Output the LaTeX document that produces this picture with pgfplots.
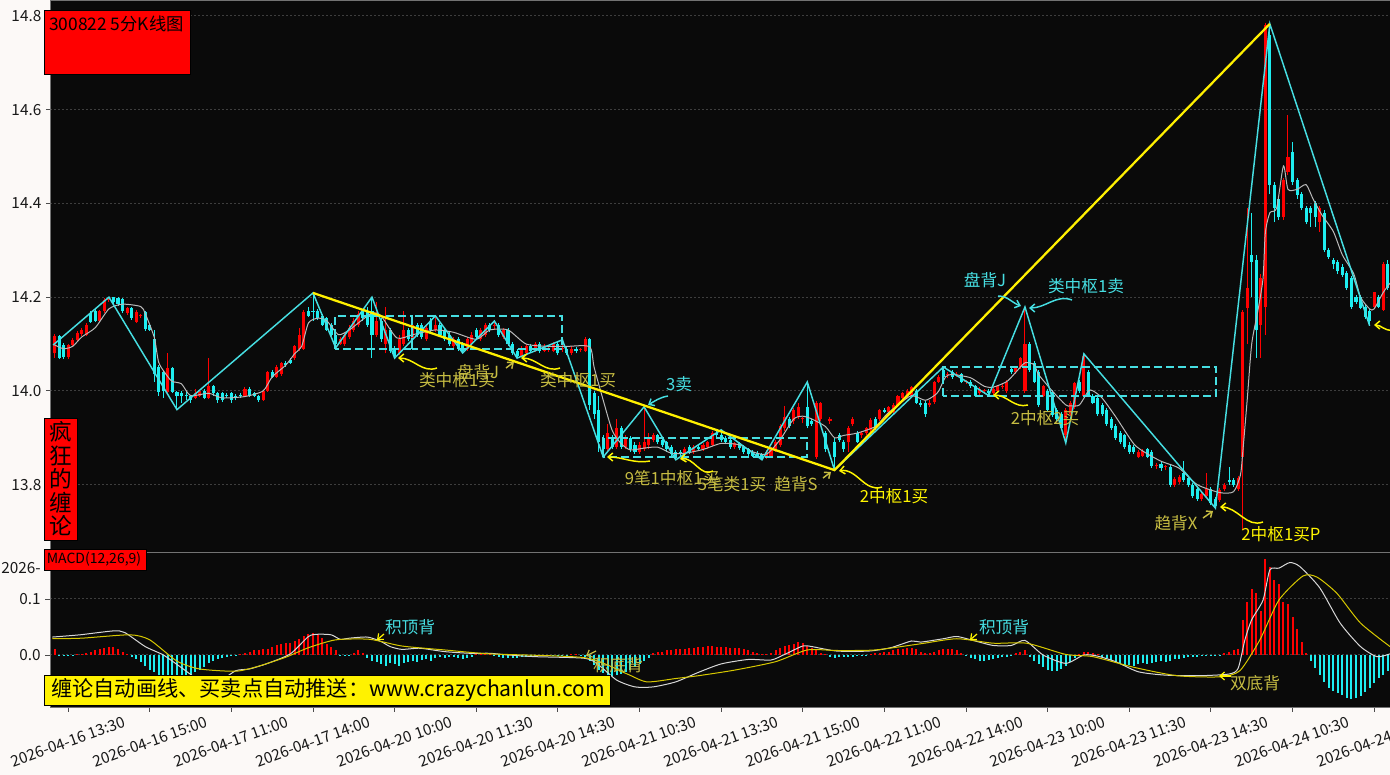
\documentclass[border=0pt]{standalone}
\usepackage{fontspec}
\setmainfont{Noto Sans CJK SC}
\usepackage{pgfplots}
\pgfplotsset{compat=1.18}
\usepackage{pgfplotstable}
\usetikzlibrary{arrows.meta}

\definecolor{pagebg}{RGB}{252,249,247}
\definecolor{plotbg}{RGB}{10,10,10}
\definecolor{kup}{RGB}{255,0,0}
\definecolor{kdn}{RGB}{30,238,240}
\definecolor{bi}{RGB}{70,222,226}
\definecolor{seg}{RGB}{255,240,0}
\definecolor{maline}{RGB}{185,185,185}
\definecolor{difc}{RGB}{215,215,215}
\definecolor{deac}{RGB}{215,200,0}
\definecolor{olive}{RGB}{198,188,66}
\definecolor{ylw}{RGB}{255,245,0}
\definecolor{gridc}{RGB}{62,62,62}

% 5-minute bars: index, open, high, low, close, MACD histogram
\pgfplotstableread{
i o h l c d
1 14.080 14.122 14.070 14.118 0.010
2 14.118 14.120 14.068 14.070 -0.002
3 14.098 14.102 14.068 14.072 -0.002
4 14.072 14.100 14.068 14.098 -0.002
5 14.098 14.112 14.095 14.108 -0.001
6 14.108 14.128 14.104 14.124 0.001
7 14.122 14.135 14.118 14.130 0.002
8 14.120 14.145 14.118 14.141 0.004
9 14.166 14.170 14.145 14.148 0.006
10 14.170 14.175 14.148 14.150 0.008
11 14.150 14.172 14.148 14.170 0.010
12 14.170 14.198 14.166 14.194 0.012
13 14.194 14.200 14.190 14.199 0.015
14 14.200 14.201 14.186 14.190 0.015
15 14.199 14.200 14.182 14.186 0.010
16 14.196 14.198 14.166 14.170 0.005
17 14.166 14.180 14.162 14.176 0.002
18 14.176 14.178 14.152 14.155 -0.003
19 14.148 14.172 14.145 14.168 -0.008
20 14.160 14.165 14.155 14.161 -0.013
21 14.168 14.170 14.128 14.131 -0.020
22 14.140 14.142 14.128 14.130 -0.026
23 14.110 14.130 14.020 14.035 -0.030
24 14.050 14.055 13.990 13.998 -0.040
25 14.040 14.045 13.985 14.000 -0.045
26 13.998 14.080 13.995 14.049 -0.048
27 14.049 14.052 13.995 13.998 -0.050
28 13.998 14.000 13.960 13.990 -0.050
29 13.996 14.000 13.975 13.990 -0.045
30 13.991 14.000 13.980 13.989 -0.040
31 13.990 13.992 13.975 13.980 -0.035
32 13.985 14.005 13.982 13.995 -0.030
33 13.990 14.002 13.988 14.000 -0.026
34 14.000 14.003 13.982 13.985 -0.022
35 13.985 14.070 13.982 14.010 -0.015
36 14.010 14.012 13.990 13.995 -0.010
37 13.995 13.998 13.975 13.980 -0.008
38 13.995 13.998 13.976 13.980 -0.005
39 13.991 13.995 13.985 13.989 -0.003
40 13.995 13.998 13.975 13.980 -0.002
41 13.990 13.994 13.980 13.984 -0.001
42 13.991 13.995 13.985 13.989 0.002
43 13.990 14.008 13.986 14.005 0.004
44 14.005 14.008 13.988 13.990 0.006
45 13.995 13.998 13.986 13.990 0.009
46 13.990 13.992 13.976 13.980 0.009
47 13.980 14.002 13.978 14.000 0.010
48 14.000 14.042 13.998 14.040 0.010
49 14.040 14.045 14.028 14.030 0.015
50 14.030 14.055 14.028 14.050 0.018
51 14.035 14.062 14.032 14.060 0.020
52 14.060 14.064 14.052 14.055 0.022
53 14.066 14.070 14.058 14.060 0.022
54 14.070 14.098 14.066 14.095 0.025
55 14.090 14.135 14.086 14.120 0.028
56 14.090 14.172 14.088 14.169 0.033
57 14.170 14.178 14.158 14.160 0.038
58 14.171 14.209 14.150 14.169 0.040
59 14.170 14.175 14.152 14.155 0.038
60 14.160 14.165 14.138 14.140 0.030
61 14.155 14.158 14.128 14.130 0.020
62 14.140 14.145 14.118 14.120 0.015
63 14.120 14.125 14.092 14.100 0.008
64 14.100 14.115 14.098 14.110 -0.002
65 14.100 14.124 14.096 14.120 -0.002
66 14.115 14.140 14.110 14.135 -0.001
67 14.130 14.155 14.126 14.150 0.003
68 14.140 14.170 14.136 14.165 0.008
69 14.170 14.175 14.150 14.155 0.003
70 14.170 14.180 14.136 14.140 -0.005
71 14.170 14.200 14.070 14.120 -0.010
72 14.120 14.190 14.115 14.150 -0.012
73 14.150 14.155 14.105 14.110 -0.016
74 14.100 14.180 14.080 14.130 -0.019
75 14.130 14.135 14.080 14.085 -0.015
76 14.090 14.095 14.070 14.075 -0.017
77 14.080 14.120 14.076 14.110 -0.019
78 14.100 14.170 14.096 14.130 -0.014
79 14.130 14.135 14.106 14.110 -0.012
80 14.110 14.145 14.106 14.140 -0.010
81 14.140 14.145 14.115 14.120 -0.013
82 14.140 14.145 14.110 14.115 -0.009
83 14.110 14.140 14.106 14.135 -0.007
84 14.150 14.155 14.126 14.130 -0.010
85 14.130 14.160 14.126 14.140 -0.005
86 14.140 14.145 14.116 14.120 -0.004
87 14.130 14.135 14.106 14.110 -0.006
88 14.120 14.125 14.096 14.100 -0.004
89 14.095 14.115 14.090 14.110 -0.003
90 14.110 14.115 14.086 14.090 -0.006
91 14.100 14.105 14.081 14.085 -0.007
92 14.090 14.115 14.086 14.110 -0.005
93 14.100 14.125 14.096 14.120 -0.004
94 14.130 14.135 14.110 14.115 0.002
95 14.110 14.135 14.106 14.130 0.003
96 14.120 14.145 14.116 14.140 0.004
97 14.140 14.145 14.126 14.130 0.003
98 14.139 14.150 14.130 14.141 -0.002
99 14.140 14.145 14.116 14.120 -0.004
100 14.115 14.135 14.110 14.130 -0.005
101 14.130 14.135 14.096 14.100 -0.006
102 14.100 14.105 14.076 14.080 -0.005
103 14.085 14.090 14.070 14.075 -0.005
104 14.075 14.095 14.072 14.090 -0.004
105 14.080 14.100 14.076 14.095 -0.004
106 14.095 14.100 14.080 14.085 -0.003
107 14.085 14.105 14.082 14.100 -0.003
108 14.100 14.104 14.080 14.085 -0.002
109 14.085 14.100 14.082 14.095 -0.002
110 14.089 14.095 14.084 14.091 -0.002
111 14.085 14.104 14.082 14.100 -0.001
112 14.100 14.104 14.076 14.080 -0.001
113 14.089 14.109 14.084 14.091 -0.002
114 14.090 14.095 14.076 14.080 -0.002
115 14.080 14.095 14.076 14.090 0.001
116 14.090 14.094 14.080 14.085 0.002
117 14.087 14.092 14.082 14.089 -0.001
118 14.085 14.115 14.082 14.110 -0.004
119 14.110 14.112 13.960 13.970 -0.010
120 13.995 14.000 13.940 13.950 -0.018
121 13.960 13.990 13.870 13.890 -0.026
122 13.900 13.905 13.859 13.875 -0.033
123 13.875 13.930 13.870 13.910 -0.036
124 13.900 13.905 13.876 13.880 -0.038
125 13.880 13.940 13.876 13.920 -0.035
126 13.920 13.925 13.876 13.880 -0.034
127 13.880 13.905 13.876 13.900 -0.030
128 13.900 13.904 13.870 13.875 -0.026
129 13.885 13.890 13.866 13.870 -0.022
130 13.870 13.890 13.866 13.885 -0.016
131 13.875 13.966 13.872 13.890 -0.010
132 13.885 13.910 13.875 13.900 -0.006
133 13.895 13.910 13.890 13.905 0.003
134 13.905 13.908 13.886 13.890 0.005
135 13.895 13.898 13.880 13.885 0.006
136 13.890 13.893 13.870 13.875 0.008
137 13.880 13.884 13.862 13.865 0.008
138 13.870 13.874 13.853 13.860 0.010
139 13.870 13.874 13.860 13.865 0.010
140 13.865 13.880 13.862 13.875 0.011
141 13.880 13.884 13.866 13.870 0.013
142 13.870 13.884 13.866 13.880 0.013
143 13.880 13.884 13.872 13.875 0.014
144 13.875 13.888 13.872 13.885 0.015
145 13.880 13.894 13.876 13.890 0.016
146 13.885 13.915 13.882 13.910 0.016
147 13.910 13.917 13.902 13.905 0.015
148 13.905 13.910 13.890 13.895 0.014
149 13.900 13.904 13.886 13.890 0.014
150 13.895 13.898 13.876 13.880 0.013
151 13.880 13.892 13.876 13.888 0.013
152 13.888 13.892 13.874 13.878 0.012
153 13.880 13.884 13.866 13.870 0.010
154 13.875 13.878 13.862 13.865 0.008
155 13.870 13.874 13.858 13.862 0.005
156 13.868 13.872 13.856 13.860 0.003
157 13.865 13.868 13.853 13.856 0.002
158 13.858 13.874 13.855 13.870 0.002
159 13.860 13.880 13.856 13.875 0.004
160 13.875 13.895 13.870 13.890 0.008
161 13.885 13.930 13.880 13.925 0.012
162 13.920 13.967 13.915 13.945 0.016
163 13.940 13.944 13.920 13.925 0.018
164 13.935 13.964 13.930 13.960 0.020
165 13.945 13.975 13.940 13.966 0.024
166 13.939 13.945 13.932 13.941 0.022
167 13.965 14.019 13.920 13.925 0.016
168 13.935 13.940 13.926 13.930 0.012
169 13.860 13.978 13.855 13.975 0.008
170 13.940 13.977 13.935 13.975 0.004
171 13.910 13.915 13.870 13.875 0.002
172 13.935 13.945 13.930 13.940 -0.004
173 13.890 13.900 13.831 13.860 -0.005
174 13.905 13.910 13.890 13.895 -0.004
175 13.890 13.895 13.870 13.875 -0.003
176 13.890 13.925 13.870 13.920 -0.003
177 13.930 13.945 13.925 13.940 -0.004
178 13.910 13.915 13.889 13.890 -0.002
179 13.905 13.915 13.900 13.910 -0.002
180 13.910 13.924 13.906 13.920 -0.001
181 13.917 13.942 13.912 13.938 0.002
182 13.940 13.944 13.916 13.920 0.003
183 13.940 13.962 13.936 13.960 0.004
184 13.960 13.964 13.952 13.955 0.005
185 13.955 13.968 13.950 13.965 0.006
186 13.955 13.974 13.950 13.970 0.008
187 13.970 13.992 13.966 13.990 0.010
188 13.985 13.998 13.980 13.995 0.011
189 13.990 14.003 13.986 14.000 0.012
190 13.990 14.010 13.986 14.008 0.013
191 14.000 14.004 13.972 13.975 0.010
192 13.975 13.980 13.965 13.970 0.006
193 13.975 13.978 13.945 13.950 0.003
194 13.970 13.980 13.966 13.975 0.003
195 13.977 14.022 13.972 14.020 0.006
196 14.020 14.034 14.016 14.030 0.009
197 14.045 14.051 14.026 14.030 0.010
198 14.034 14.040 14.028 14.036 0.011
199 14.040 14.044 14.026 14.030 0.010
200 14.034 14.040 14.030 14.036 0.008
201 14.035 14.038 14.016 14.020 0.004
202 14.019 14.024 14.014 14.021 -0.002
203 14.020 14.024 14.006 14.010 -0.005
204 14.010 14.013 13.986 13.990 -0.008
205 13.995 14.008 13.992 14.005 -0.010
206 13.999 14.004 13.994 14.001 -0.010
207 14.000 14.004 13.990 13.995 -0.009
208 13.995 14.008 13.992 14.005 -0.007
209 14.000 14.013 13.996 14.010 -0.006
210 14.009 14.014 14.004 14.011 -0.004
211 14.000 14.024 13.996 14.020 -0.003
212 14.047 14.050 14.036 14.040 -0.001
213 14.040 14.053 14.036 14.050 0.003
214 14.050 14.073 14.046 14.070 0.006
215 14.000 14.179 13.996 14.100 0.009
216 14.100 14.104 14.040 14.045 -0.003
217 14.060 14.064 14.016 14.020 -0.010
218 14.040 14.044 13.966 13.970 -0.016
219 13.990 14.013 13.986 14.010 -0.022
220 14.000 14.004 13.956 13.960 -0.026
221 13.998 14.002 13.945 13.949 -0.029
222 13.960 13.964 13.936 13.940 -0.028
223 13.950 13.954 13.916 13.920 -0.025
224 13.906 13.963 13.889 13.960 -0.020
225 13.950 13.978 13.946 13.975 -0.012
226 13.966 14.020 13.962 14.017 -0.005
227 14.020 14.024 13.996 14.000 0.002
228 13.990 14.079 13.986 14.075 0.005
229 14.040 14.044 13.986 13.990 0.005
230 13.990 13.994 13.971 13.975 0.004
231 13.985 13.990 13.946 13.950 0.002
232 13.970 13.974 13.946 13.950 -0.003
233 13.960 13.964 13.926 13.930 -0.006
234 13.940 13.944 13.916 13.920 -0.009
235 13.925 13.930 13.896 13.900 -0.012
236 13.910 13.914 13.886 13.890 -0.016
237 13.905 13.908 13.876 13.880 -0.020
238 13.885 13.890 13.866 13.870 -0.018
239 13.880 13.884 13.866 13.870 -0.020
240 13.860 13.874 13.856 13.870 -0.017
241 13.862 13.876 13.858 13.872 -0.015
242 13.875 13.878 13.856 13.860 -0.016
243 13.870 13.874 13.836 13.840 -0.014
244 13.839 13.846 13.834 13.841 -0.013
245 13.845 13.848 13.830 13.835 -0.011
246 13.837 13.842 13.832 13.839 -0.012
247 13.838 13.842 13.796 13.800 -0.010
248 13.800 13.816 13.796 13.812 -0.008
249 13.806 13.820 13.802 13.817 -0.007
250 13.825 13.850 13.806 13.810 -0.005
251 13.815 13.818 13.796 13.800 -0.004
252 13.800 13.804 13.771 13.775 -0.003
253 13.790 13.794 13.766 13.770 -0.003
254 13.770 13.784 13.766 13.780 -0.002
255 13.775 13.825 13.771 13.790 -0.002
256 13.790 13.794 13.756 13.760 -0.001
257 13.770 13.774 13.750 13.755 -0.001
258 13.768 13.792 13.764 13.789 -0.001
259 13.790 13.804 13.786 13.800 0.003
260 13.810 13.838 13.800 13.805 0.005
261 13.810 13.814 13.796 13.800 0.008
262 13.790 13.818 13.786 13.815 0.011
263 13.860 14.172 13.703 14.169 0.062
264 14.177 14.390 14.100 14.220 0.095
265 14.290 14.380 14.200 14.275 0.118
266 14.280 14.290 14.070 14.130 0.110
267 14.140 14.250 14.070 14.240 0.079
268 14.180 14.785 14.120 14.780 0.171
269 14.760 14.783 14.420 14.440 0.158
270 14.440 14.445 14.360 14.390 0.134
271 14.410 14.415 14.365 14.370 0.127
272 14.370 14.455 14.365 14.450 0.095
273 14.467 14.589 14.460 14.500 0.091
274 14.510 14.530 14.440 14.446 0.068
275 14.450 14.455 14.410 14.418 0.046
276 14.420 14.425 14.385 14.390 0.023
277 14.390 14.395 14.355 14.360 0.004
278 14.390 14.395 14.350 14.380 -0.011
279 14.400 14.405 14.350 14.370 -0.023
280 14.360 14.395 14.340 14.390 -0.035
281 14.380 14.385 14.296 14.300 -0.048
282 14.300 14.304 14.282 14.286 -0.059
283 14.280 14.284 14.260 14.270 -0.064
284 14.275 14.280 14.250 14.255 -0.068
285 14.265 14.270 14.244 14.247 -0.072
286 14.252 14.256 14.216 14.220 -0.076
287 14.240 14.245 14.175 14.179 -0.079
288 14.200 14.204 14.186 14.190 -0.077
289 14.200 14.204 14.174 14.177 -0.074
290 14.179 14.183 14.154 14.158 -0.066
291 14.170 14.174 14.139 14.150 -0.059
292 14.180 14.212 14.176 14.210 -0.050
293 14.200 14.205 14.176 14.180 -0.041
294 14.173 14.275 14.170 14.270 -0.035
295 14.270 14.280 14.215 14.220 -0.029
}\kdata

\begin{document}
\begin{tikzpicture}
\path[use as bounding box, fill=pagebg] (0pt,0pt) rectangle (1042.5pt,581.25pt);
\clip (0pt,0pt) rectangle (1042.5pt,581.25pt);

\pgfplotsset{kbase/.style={
  scale only axis, width=1005pt, xmin=0, xmax=295.5,
  axis background/.style={fill=plotbg},
  axis line style={draw=black!55, line width=0.5pt},
  tick label style={font=\fontsize{11.5}{13}\selectfont, text=black!90},
  /pgf/number format/assume math mode=true,
  ytick pos=left, tick align=outside, major tick length=3pt,
  tick style={black!70, line width=0.6pt},
  ymajorgrids, grid style={gridc, line width=0.75pt, dash pattern=on 1.5pt off 1.5pt},
}}

% ---------- price panel ----------
\begin{axis}[kbase, at={(37.5pt,167.25pt)}, anchor=south west, height=414pt,
  ymin=13.6565, ymax=14.8341, xtick=\empty,
  ytick={13.8,14.0,14.2,14.4,14.6,14.8},
  yticklabels={13.8,14.0,14.2,14.4,14.6,14.8}]

% wicks
\addplot[draw=none, mark=none, error bars/.cd, y dir=plus, y explicit, error mark=none,
  error bar style={line width=0.75pt, draw=kup}]
  table[x=i, y expr={\thisrow{c}<\thisrow{o} ? 0 : \thisrow{l}},
        y error plus expr={\thisrow{h}-\thisrow{l}}] {\kdata};
\addplot[draw=none, mark=none, error bars/.cd, y dir=plus, y explicit, error mark=none,
  error bar style={line width=0.75pt, draw=kdn}]
  table[x=i, y expr={\thisrow{c}<\thisrow{o} ? \thisrow{l} : 0},
        y error plus expr={\thisrow{h}-\thisrow{l}}] {\kdata};
% bodies
\addplot[draw=none, mark=none, error bars/.cd, y dir=plus, y explicit, error mark=none,
  error bar style={line width=2.3pt, draw=kup}]
  table[x=i, y expr={\thisrow{c}<\thisrow{o} ? 0 : \thisrow{o}},
        y error plus expr={max(\thisrow{c}-\thisrow{o},0.0025)}] {\kdata};
\addplot[draw=none, mark=none, error bars/.cd, y dir=plus, y explicit, error mark=none,
  error bar style={line width=2.3pt, draw=kdn}]
  table[x=i, y expr={\thisrow{c}<\thisrow{o} ? \thisrow{c} : 0},
        y error plus expr={max(\thisrow{o}-\thisrow{c},0.0025)}] {\kdata};

% moving average
\addplot[maline, line width=0.75pt, smooth, tension=0.4] coordinates {
(1,14.098) (3,14.090) (5,14.095) (7,14.115) (10,14.135) (13,14.175) (16,14.185) (20,14.180)
(21,14.165) (23,14.114) (24,14.060) (26,14.030) (27,14.020) (29,14.015) (31,13.990) (35,13.995)
(38,13.985) (43,13.988) (47,14.000) (49,14.030) (52,14.055) (54,14.080) (55.5,14.095) (57,14.145)
(59,14.155) (61,14.150) (63.6,14.120) (66,14.130) (68,14.145) (71,14.166) (73,14.160) (76.5,14.113)
(80,14.120) (85,14.130) (89,14.125) (94,14.110) (97,14.130) (101,14.130) (105,14.100) (110,14.095)
(114,14.095) (119,14.094) (120,14.050) (122,13.980) (124,13.915) (126,13.887) (128,13.874) (131,13.878)
(134,13.880) (137,13.867) (140,13.867) (144,13.875) (148,13.888) (152,13.885) (155,13.870) (158,13.865)
(161,13.896) (164,13.940) (166,13.946) (168,13.940) (171,13.924) (173,13.900) (175,13.905) (178,13.910)
(182,13.924) (184.5,13.950) (187,13.970) (190,13.990) (193,13.980) (195,13.990) (196,14.000) (197.5,14.030)
(199,14.035) (203,14.028) (206,14.010) (208,14.008) (211,14.020) (213,14.040) (215,14.060) (217,14.056)
(218,14.035) (221,14.000) (224,13.970) (225,13.968) (227,13.970) (229,14.000) (230,14.000) (232,13.985)
(235,13.945) (239,13.887) (241.6,13.868) (245,13.850) (249,13.835) (253,13.800) (258,13.783) (261,13.785)
(262.5,13.820) (263,13.866) (264,13.980) (265,14.100) (266.4,14.173) (267.5,14.240) (268,14.337) (269,14.380)
(270.5,14.390) (272,14.480) (273,14.430) (275,14.430) (277,14.440) (278.5,14.410) (280.5,14.375) (283,14.340)
(285,14.290) (287.5,14.250) (289,14.200) (291,14.175) (292,14.175) (294,14.210) (295.5,14.230)
};

% pivot boxes
\addplot[bi, line width=1.5pt, dash pattern=on 6pt off 3pt] coordinates {(62.8,14.09) (62.8,14.16) (79.8,14.16) (79.8,14.09) (62.8,14.09)};
\addplot[bi, line width=1.5pt, dash pattern=on 6pt off 3pt] coordinates {(79.8,14.09) (79.8,14.16) (112.9,14.16) (112.9,14.09) (79.8,14.09)};
\addplot[bi, line width=1.5pt, dash pattern=on 6pt off 3pt] coordinates {(121.9,13.859) (121.9,13.90) (166.9,13.90) (166.9,13.859) (121.9,13.859)};
\addplot[bi, line width=1.5pt, dash pattern=on 6pt off 3pt] coordinates {(196.9,13.989) (196.9,14.051) (257.1,14.051) (257.1,13.989) (196.9,13.989)};

% strokes
\addplot[bi, line width=1.1pt] coordinates {
(0.7,14.098) (13,14.200) (28,13.960) (58,14.209) (63,14.092) (71,14.200) (76,14.070) (85,14.160)
(91,14.081) (98,14.149) (103,14.070) (113,14.109) (122,13.859) (131,13.966) (138,13.853) (148,13.917)
(157,13.853) (167,14.019) (173,13.831) (197,14.051) (207,13.990) (215,14.179) (224,13.889) (228,14.079)
(257,13.750) (269,14.783) (291,14.139)
};
% segments
\addplot[seg, line width=1.7pt] coordinates {(58,14.209) (173,13.831) (269,14.783)};
\end{axis}

% ---------- MACD panel ----------
\begin{axis}[kbase, at={(37.5pt,51pt)}, anchor=south west, height=116.25pt,
  ymin=-0.0929, ymax=0.1839,
  ytick={0,0.1}, yticklabels={0.0,0.1},
  extra y ticks={0.155}, extra y tick labels={2026-}, extra y tick style={grid=none},
  xtick={4,22,...,292}, xtick pos=bottom, major tick length=3.5pt,
  xticklabels={2026-04-16 13:30,2026-04-16 15:00,2026-04-17 11:00,2026-04-17 14:00,
    2026-04-20 10:00,2026-04-20 11:30,2026-04-20 14:30,2026-04-21 10:30,2026-04-21 13:30,
    2026-04-21 15:00,2026-04-22 11:00,2026-04-22 14:00,2026-04-23 10:00,2026-04-23 11:30,
    2026-04-23 14:30,2026-04-24 10:30,2026-04-24 13:30},
  xticklabel style={yshift=-22.5pt, rotate=20, anchor=center, font=\fontsize{11.5}{13}\selectfont}]

\addplot[ycomb, kup, line width=1.5pt, mark=none]
  table[x=i, y expr={\thisrow{d}>0 ? \thisrow{d} : 0}] {\kdata};
\addplot[ycomb, kdn, line width=1.5pt, mark=none]
  table[x=i, y expr={\thisrow{d}<0 ? \thisrow{d} : 0}] {\kdata};

% DIF
\addplot[difc, line width=0.75pt, smooth, tension=0.4] coordinates {
(0.5,0.032) (6.6,0.036) (14,0.043) (16.5,0.040) (21,0.015) (25,0.000) (28.7,-0.021) (33,-0.045)
(37,-0.048) (41,-0.028) (44,-0.025) (48,-0.015) (53,0.002) (57,0.033) (59,0.037) (62,0.036)
(64,0.028) (66,0.030) (70,0.032) (73,0.024) (75,0.015) (77.6,0.010) (81.6,0.012) (87,0.006)
(92.6,0.003) (97,0.003) (101,0.000) (107,-0.003) (118,-0.006) (121,-0.018) (125,-0.045) (129,-0.057)
(133,-0.057) (138,-0.048) (143,-0.031) (148,-0.016) (154,-0.008) (159,-0.009) (162,0.001) (166,0.016)
(168,0.015) (173.5,0.007) (180.6,0.007) (185.4,0.013) (190,0.025) (192,0.023) (197,0.029) (200,0.033)
(204,0.025) (208,0.017) (212,0.017) (215,0.026) (219,0.000) (224,-0.015) (228,0.000) (231,-0.002)
(235,-0.012) (240,-0.030) (246,-0.036) (253.6,-0.037) (260,-0.034) (262,-0.024) (263.5,0.027) (265,0.063)
(267.5,0.098) (269,0.152) (271,0.155) (273.4,0.165) (275.6,0.158) (280,0.120) (284.5,0.057) (289,0.015)
(292.6,-0.003) (295.5,0.002)
};
% DEA
\addplot[deac, line width=0.75pt, smooth, tension=0.4] coordinates {
(0.5,0.029) (7,0.030) (17.6,0.036) (22,0.027) (28,-0.011) (33,-0.025) (41,-0.029) (46,-0.020)
(52,-0.004) (57,0.013) (63,0.027) (70.5,0.028) (77.6,0.016) (87,0.009) (97,0.002) (118,-0.005)
(127,-0.033) (131.6,-0.048) (138,-0.042) (143,-0.037) (151,-0.027) (160,-0.012) (167,0.009) (173.5,0.008)
(182,0.009) (192,0.020) (200,0.029) (208,0.021) (215.4,0.021) (224,0.001) (230,-0.003) (239,-0.022)
(248.5,-0.037) (258,-0.039) (262.4,-0.028) (266.8,0.027) (271,0.098) (276.3,0.141) (279.4,0.139) (283.8,0.110)
(289,0.057) (295.5,0.015)
};
\end{axis}

% ---------- labels and arrows (image pixel coordinates, y down) ----------
\begin{scope}[shift={(0pt,581.25pt)}, x=0.75pt, y=-0.75pt, font=\fontsize{12.5}{14}\selectfont,
  arr/.style={line width=1.1pt, -{Straight Barb[length=3.5pt,width=6pt]}}]
\draw[black, fill=red] (44,10) rectangle (190,74);
\node[anchor=west, inner sep=0, font=\fontsize{13}{15}\selectfont] at (49,24) {300822 5分K线图};
\draw[black, fill=red] (44,418) rectangle (77,540);
\node[align=center, inner sep=0, font=\fontsize{17}{17.6}\selectfont] at (60.5,479) {疯\\狂\\的\\缠\\论};
\draw[black, fill=red] (44,549) rectangle (146,570);
\node[anchor=west, inner sep=0, font=\fontsize{10.5}{12}\selectfont] at (46.5,559.5) {MACD(12,26,9)};
\draw[black, fill=yellow] (44,675) rectangle (610,705);
\node[anchor=west, inner sep=0, font=\fontsize{15.9}{18}\selectfont] at (51,690) {缠论自动画线、买卖点自动推送：www.crazychanlun.com};

% price annotations
\node[text=olive] at (457,380) {类中枢1买};
\node[text=olive] at (478,372) {盘背J};
\node[text=olive] at (578,380) {类中枢1买};
\node[text=bi] at (679,384) {3卖};
\node[text=olive] at (672,478) {9笔1中枢1买};
\node[text=olive] at (732,484) {5笔类1买};
\node[text=olive] at (796,484) {趋背S};
\node[text=ylw] at (894,496) {2中枢1买};
\node[text=bi] at (985,280) {盘背J};
\node[text=bi] at (1086,286) {类中枢1卖};
\node[text=olive] at (1045,418) {2中枢2买};
\node[text=olive] at (1176,523) {趋背X};
\node[text=ylw] at (1281,534) {2中枢1买P};

\draw[arr, ylw] (437,368) to[out=200,in=0] (398,358);
\draw[arr, olive] (506,368) -- (514,362);
\draw[arr, ylw] (560,368) to[out=200,in=0] (521,358);
\draw[arr, bi] (668,396) to[out=190,in=30] (648,405);
\draw[arr, ylw] (650,461) to[out=190,in=0] (607,457);
\draw[arr, ylw] (713,471) to[out=210,in=10] (680,459);
\draw[arr, olive] (823,478) -- (831,472);
\draw[arr, ylw] (882,487) to[out=200,in=10] (839,471);
\draw[arr, bi] (998,296) to[out=0,in=160] (1021,306);
\draw[arr, bi] (1072,300) to[out=160,in=0] (1029,308);
\draw[arr, ylw] (1028,405) to[out=195,in=0] (993,395);
\draw[arr, olive] (1203,518) -- (1213,511);
\draw[arr, ylw] (1263,522) to[out=200,in=0] (1220,507);
\draw[arr, ylw] (1392,330) to[out=190,in=0] (1374,325);

% MACD annotations
\node[text=bi] at (410,627) {积顶背};
\node[text=olive] at (618,665) {积底背};
\node[text=bi] at (1004,627) {积顶背};
\node[text=olive] at (1255,683) {双底背};
\draw[arr, ylw, line width=0.9pt] (384,634) -- (377,640);
\draw[arr, olive, line width=0.9pt] (596,651) -- (586,656);
\draw[arr, ylw, line width=0.9pt] (977,634) -- (970,640);
\draw[arr, ylw, line width=0.9pt] (1231,676) -- (1219,676);
\end{scope}
\end{tikzpicture}
\end{document}
